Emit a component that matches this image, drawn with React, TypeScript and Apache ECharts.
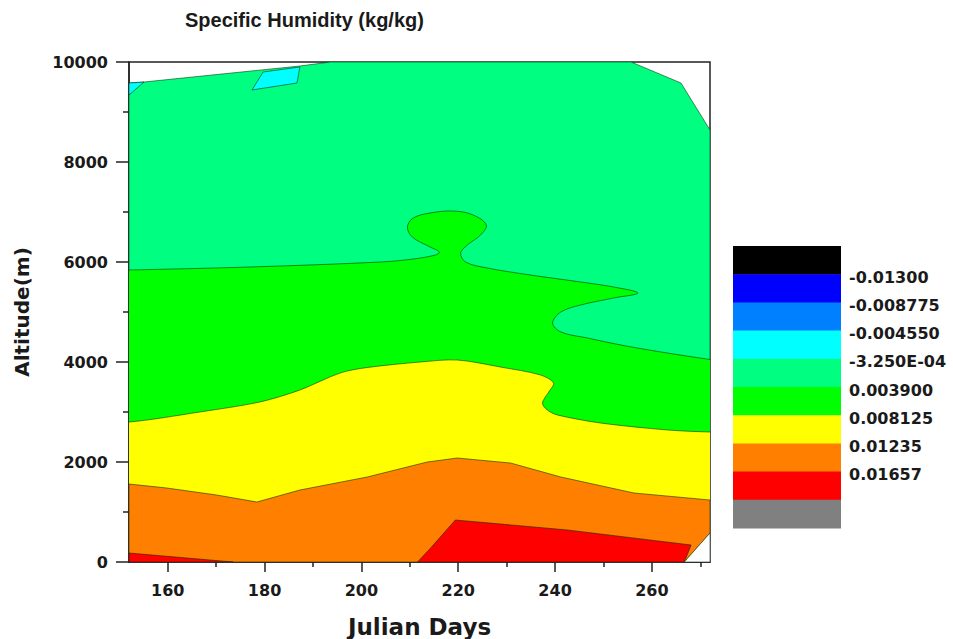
import React, { useEffect, useRef } from "react";
import * as echarts from "echarts";

// ---- Axis ticks ----
const xMajorTicks = [160, 180, 200, 220, 240, 260];
const xMinorTicks = [170, 190, 210, 230, 250, 270];

// ---- Contour regions (Julian day, altitude m) ----
// Whole data domain (value >= -3.25E-4 band, spring green)
const springGreenZone = [
  [152, 0], [152, 9580], [155.1, 9600], [187.3, 9920], [193.6, 10000],
  [255.7, 10000], [266.0, 9580], [272, 8640], [272, 580], [266.7, 0],
];
// Patches below -3.25E-4 (cyan)
const cyanTopPatch = [[177.4, 9440], [179.7, 9800], [187.3, 9900], [186.7, 9580]];
const cyanLeftPatch = [[152, 9580], [155.1, 9600], [152, 9340]];
// >= 0.0039 (green); runs past the frame and is clipped by the grid
const greenZone = [
  [140, -1000], [140, 5820], [152, 5840], [177.0, 5900], [203.9, 6000], [210.7, 6060],
  [215.3, 6140], [216.1, 6200], [214.2, 6300], [210.5, 6500], [209.5, 6700],
  [210.7, 6880], [214.2, 6980], [219.0, 7020], [223.1, 6940], [225.8, 6740],
  [224.6, 6540], [221.9, 6340], [220.5, 6180], [221.5, 6000], [226.0, 5880],
  [234.9, 5740], [245.3, 5600], [252.1, 5500], [257.1, 5380], [252.1, 5280],
  [245.3, 5140], [241.2, 5000], [239.5, 4780], [241.2, 4600], [246.7, 4480],
  [253.6, 4340], [261.9, 4200], [272, 4050], [282, 3920], [282, -1000],
];
// >= 0.008125 (yellow)
const yellowZone = [
  [140, -1000], [140, 2780], [152, 2800], [166.6, 3000], [179.0, 3200], [187.3, 3440],
  [195.6, 3780], [201.2, 3890], [212.2, 4000], [219.8, 4040], [228.7, 3900],
  [237.0, 3740], [239.7, 3580], [238.7, 3400], [237.4, 3180], [238.4, 3040],
  [240.5, 2940], [249.4, 2780], [263.3, 2640], [272, 2600], [282, 2590], [282, -1000],
];
// >= 0.01235 (orange)
const orangeZone = [
  [152, 0], [152, 1560], [159.8, 1480], [170.1, 1340], [178.4, 1200], [187.3, 1440],
  [201.2, 1700], [213.6, 2000], [219.8, 2080], [230.8, 1980], [241.2, 1700],
  [256.3, 1380], [272, 1240], [272, 580], [266.7, 0],
];
// >= 0.01657 (red)
const redLeftZone = [[152, 0], [152, 180], [173.5, 0]];
const redRightZone = [
  [211.6, 0], [214.3, 280], [219.4, 840], [242.6, 640], [268.1, 340], [266.7, 0],
];
// Blanked (no data) corner
const blankCorner = [[266.7, 0], [272, 580], [272, 0]];

const zones = [
  { points: springGreenZone, color: "#00FF80", smooth: 0 },
  { points: cyanTopPatch, color: "#00FFFF", smooth: 0 },
  { points: cyanLeftPatch, color: "#00FFFF", smooth: 0 },
  { points: greenZone, color: "#00FF00", smooth: 0.35 },
  { points: yellowZone, color: "#FFFF00", smooth: 0.3 },
  { points: orangeZone, color: "#FF8000", smooth: 0 },
  { points: redLeftZone, color: "#FF0000", smooth: 0 },
  { points: redRightZone, color: "#FF0000", smooth: 0 },
  { points: blankCorner, color: "#FFFFFF", smooth: 0 },
];

// ---- Colour scale ----
const legendColors = [
  "#000000", "#0000FF", "#0080FF", "#00FFFF", "#00FF80",
  "#00FF00", "#FFFF00", "#FF8000", "#FF0000", "#808080",
];
const legendLabels = [
  "-0.01300", "-0.008775", "-0.004550", "-3.250E-04",
  "0.003900", "0.008125", "0.01235", "0.01657",
];

const FONT = "'DejaVu Sans', sans-serif";
const TXT = "#1a1a1a";

export default function App() {
  const ref = useRef<HTMLDivElement>(null);
  useEffect(() => {
    if (!ref.current) return;
    const chart = echarts.init(ref.current, undefined, { renderer: "svg" });

    const legX = 733, legY = 246, legW = 108, legH = 28.2;
    const graphics: any[] = [];
    legendColors.forEach((c, i) => {
      graphics.push({
        type: "rect",
        shape: { x: legX, y: legY + i * legH, width: legW, height: legH + 0.6 },
        style: { fill: c },
        silent: true,
      });
    });
    legendLabels.forEach((t, i) => {
      graphics.push({
        type: "text",
        x: 849,
        y: legY + (i + 1) * legH + 3,
        style: {
          text: t,
          fill: TXT,
          font: `bold 16px ${FONT}`,
          textAlign: "left",
          textVerticalAlign: "middle",
        },
        silent: true,
      });
    });

    const axisLineStyle = { color: "#222", width: 1.5 };

    chart.setOption({
      animation: false,
      backgroundColor: "#fff",
      title: {
        text: "Specific Humidity (kg/kg)",
        left: 185,
        top: 10,
        padding: 0,
        textStyle: {
          fontFamily: "'Liberation Sans', Arial, sans-serif",
          fontWeight: "bold",
          fontSize: 20,
          color: TXT,
        },
      },
      grid: {
        left: 129,
        right: 243,
        top: 62,
        bottom: 77,
        outerBoundsMode: "none",
        containLabel: false,
        show: true,
        borderColor: "#222",
        borderWidth: 1.5,
        backgroundColor: "transparent",
      },
      xAxis: [
        {
          type: "value",
          min: 152,
          max: 272,
          position: "bottom",
          name: "Julian Days",
          nameLocation: "middle",
          nameGap: 53,
          nameTextStyle: { fontFamily: FONT, fontWeight: "bold", fontSize: 23, color: TXT },
          axisLine: { show: true, lineStyle: axisLineStyle },
          axisTick: { show: true, length: 10, customValues: xMajorTicks, lineStyle: axisLineStyle },
          axisLabel: {
            customValues: xMajorTicks,
            margin: 20,
            fontFamily: FONT,
            fontWeight: "bold",
            fontSize: 16,
            color: TXT,
          },
          splitLine: { show: false },
        },
        {
          type: "value",
          min: 152,
          max: 272,
          position: "bottom",
          axisLine: { show: false },
          axisTick: { show: true, length: 5, customValues: xMinorTicks, lineStyle: axisLineStyle },
          axisLabel: { show: false },
          splitLine: { show: false },
        },
      ],
      yAxis: {
        type: "value",
        min: 0,
        max: 10000,
        interval: 2000,
        name: "Altitude(m)",
        nameLocation: "middle",
        nameGap: 97,
        nameTextStyle: { fontFamily: FONT, fontWeight: "bold", fontSize: 20, color: TXT },
        axisLine: { show: true, lineStyle: axisLineStyle },
        axisTick: { show: true, length: 13, lineStyle: axisLineStyle },
        minorTick: { show: true, splitNumber: 2, length: 6, lineStyle: axisLineStyle },
        axisLabel: {
          margin: 21,
          fontFamily: FONT,
          fontWeight: "bold",
          fontSize: 16,
          color: TXT,
          formatter: (v: number) => String(v),
        },
        splitLine: { show: false },
      },
      series: [
        {
          type: "custom",
          coordinateSystem: "cartesian2d",
          xAxisIndex: 0,
          yAxisIndex: 0,
          clip: true,
          silent: true,
          data: zones.map((z, i) => [z.points[0][0], z.points[0][1], i]),
          renderItem: (params: any, api: any) => {
            const z = zones[params.dataIndex];
            const pts = z.points.map((p) => api.coord(p));
            return {
              type: "polygon",
              shape: { points: pts, smooth: z.smooth },
              style: {
                fill: z.color,
                stroke: "rgba(0,40,0,0.55)",
                lineWidth: 1,
              },
            };
          },
        },
      ],
      graphic: graphics,
    });
    return () => chart.dispose();
  }, []);
  return <div ref={ref} style={{ width: 953, height: 639, position: "absolute", left: 0, top: 0 }} />;
}
